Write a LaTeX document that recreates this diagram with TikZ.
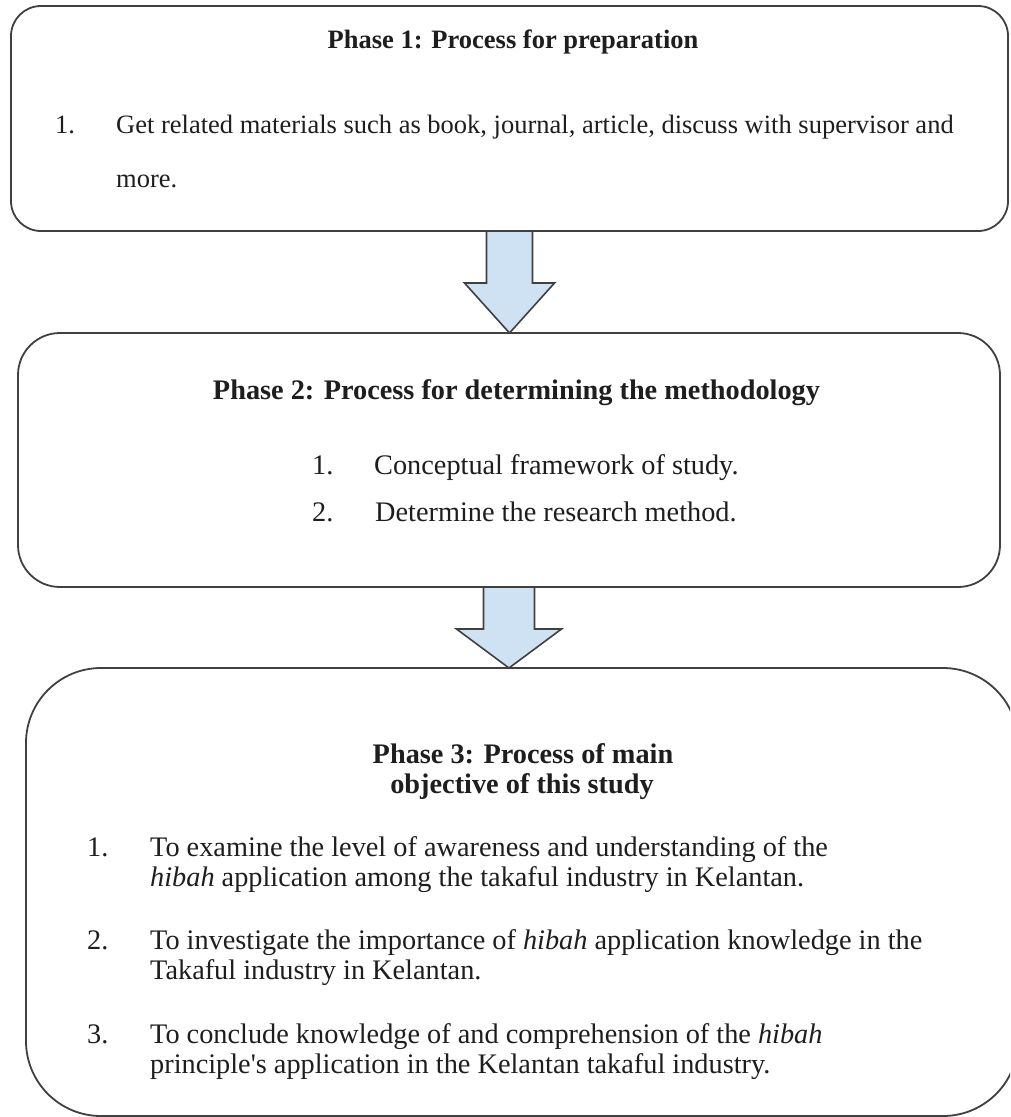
\documentclass[tikz,border=0pt]{standalone}
\usepackage{fontspec}
\setmainfont{Liberation Serif}
\usetikzlibrary{calc}
\definecolor{edge}{HTML}{404040}
\definecolor{afill}{HTML}{CFE2F3}
\definecolor{txt}{HTML}{1E1E1E}
\tikzset{
  phasebox/.style={draw=edge, line width=1.8pt, fill=white, inner sep=0pt, outer sep=0pt},
  barrow/.style={draw=edge, line width=1.6pt, fill=afill, line join=miter},
  tsmall/.style={inner sep=0pt, text height=18.5pt, text depth=6.6pt, text=txt, font=\fontsize{26.5}{30}\selectfont},
  tbig/.style={inner sep=0pt, text height=19.8pt, text depth=7.1pt, text=txt, font=\fontsize{28.3}{32}\selectfont},
  hsmall/.style={tsmall, font=\fontsize{26.5}{30}\selectfont\bfseries},
  hbig/.style={tbig, font=\fontsize{28.3}{32}\selectfont\bfseries},
}
\begin{document}
\begin{tikzpicture}[x=1pt, y=-1pt]
\useasboundingbox (0,0) rectangle (1010,1117);
\clip (0,0) rectangle (1010,1117);
% boxes
\node[phasebox, rounded corners=30pt, minimum width=997pt, minimum height=225pt] (b1) at (509.5,118.5) {};
\node[phasebox, rounded corners=42pt, minimum width=982pt, minimum height=254pt] (b2) at (509,460) {};
\node[phasebox, rounded corners=75pt, minimum width=992pt, minimum height=448pt] (b3) at (522,892) {};
% arrows
\coordinate (a1) at (b1.south |- b2.north);
\draw[barrow] ($(b1.south)+(-23,0)$) -- ($(b1.south)+(-23,52)$) -- ($(b1.south)+(-45,52)$)
  -- (a1) -- ($(b1.south)+(45,52)$) -- ($(b1.south)+(23,52)$) -- ($(b1.south)+(23,0)$) -- cycle;
\coordinate (a2) at (b2.south |- b3.north);
\draw[barrow] ($(b2.south)+(-25.5,0)$) -- ($(b2.south)+(-25.5,42)$) -- ($(b2.south)+(-52.5,42)$)
  -- (a2) -- ($(b2.south)+(52.5,42)$) -- ($(b2.south)+(25.5,42)$) -- ($(b2.south)+(25.5,0)$) -- cycle;
% phase 1 text
\node[hsmall] (h1) at (513,43) {Phase 1: Process for preparation};
\node[tsmall, anchor=west] (n11) at (55,128) {1.};
\node[tsmall, anchor=west] (t11a) at (116,128) {Get related materials such as book, journal, article, discuss with supervisor and};
\node[tsmall, anchor=west] (t11b) at (116,182) {more.};
% phase 2 text
\node[hbig] (h2) at (516.5,393) {Phase 2: Process for determining the methodology};
\node[tbig, anchor=west] (n21) at (312,468) {1.};
\node[tbig, anchor=west] (t21) at (374,468) {Conceptual framework of study.};
\node[tbig, anchor=west] (n22) at (312,515) {2.};
\node[tbig, anchor=west] (t22) at (375,515) {Determine the research method.};
% phase 3 text
\node[hbig] (h3a) at (523,757) {Phase 3: Process of main};
\node[hbig] (h3b) at (522,787) {objective of this study};
\node[tbig, anchor=west] (n31) at (87,850) {1.};
\node[tbig, anchor=west] (t31a) at (150,850) {To examine the level of awareness and understanding of the};
\node[tbig, anchor=west] (t31b) at (150,880) {\textit{hibah} application among the takaful industry in Kelantan.};
\node[tbig, anchor=west] (n32) at (87,943) {2.};
\node[tbig, anchor=west] (t32a) at (150,943) {To investigate the importance of \textit{hibah} application knowledge in the};
\node[tbig, anchor=west] (t32b) at (150,973) {Takaful industry in Kelantan.};
\node[tbig, anchor=west] (n33) at (87,1037) {3.};
\node[tbig, anchor=west] (t33a) at (150,1037) {To conclude knowledge of and comprehension of the \textit{hibah}};
\node[tbig, anchor=west] (t33b) at (150,1067) {principle\textquotesingle s application in the Kelantan takaful industry.};
\end{tikzpicture}
\end{document}
